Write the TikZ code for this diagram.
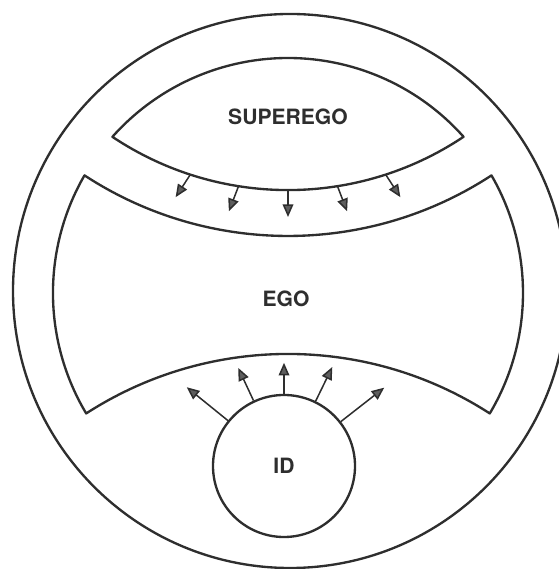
\documentclass[tikz,border=0pt]{standalone}
\usepackage{fontspec}
\usepackage{tikz}
\usetikzlibrary{arrows.meta, positioning}
\newfontfamily\psyfont{TeX Gyre Heros}
\definecolor{inkgray}{HTML}{2E2E2E}
\definecolor{tipgray}{HTML}{5E5E5E}

\begin{document}
\begin{tikzpicture}[
  x=0.03cm, y=0.03cm,
  every node/.style={font=\psyfont\bfseries\fontsize{18}{18}\selectfont, text=inkgray},
  region/.style={draw=inkgray, line width=2pt, line join=round},
  idbox/.style={draw=inkgray, line width=2pt, circle, minimum size=4.26cm,
                inner sep=0pt},
  arr/.style={-{Triangle[length=0.38cm, width=0.32cm, fill=tipgray]},
              draw=inkgray, line width=1.3pt},
]
  \useasboundingbox (0,0) rectangle (558,569);

  \coordinate (mind) at (288,276);
  \coordinate (supc) at (288,695);
  \coordinate (egotopc) at (288,705);
  \coordinate (egobotc) at (288,-157);

  % outer ring
  \draw[region] (290,278) circle[radius=277];

  % superego lens
  \draw[region] (mind) ++(41.65:235)
    arc[start angle=41.65, end angle=138.35, radius=235]
    arc[start angle=-123.75, end angle=-56.25, radius=316] -- cycle;

  % ego band
  \draw[region] (egotopc) ++(-123.16:372)
    arc[start angle=-123.16, end angle=-56.84, radius=372]
    arc[start angle=30.02, end angle=-30.84, radius=235]
    arc[start angle=57.15, end angle=122.85, radius=372]
    arc[start angle=210.84, end angle=149.98, radius=235] -- cycle;

  \node (superego) at (288,452) {SUPEREGO};
  \node (ego) at (286,270) {EGO};
  \node[idbox] (id) at (284,103) {ID};

  % superego presses down on ego
  \foreach \a/\d in {-108/-123, -99/-111, -90/-90, -81/-69, -72/-57}
    \draw[arr] (supc) ++(\a:316) -- ++(\d:27);

  % id pushes up
  \foreach \a/\l in {141/53, 115/36, 90/31, 64/38, 38/55}
    \draw[arr] (id.\a) -- ++(\a:\l);
\end{tikzpicture}
\end{document}
